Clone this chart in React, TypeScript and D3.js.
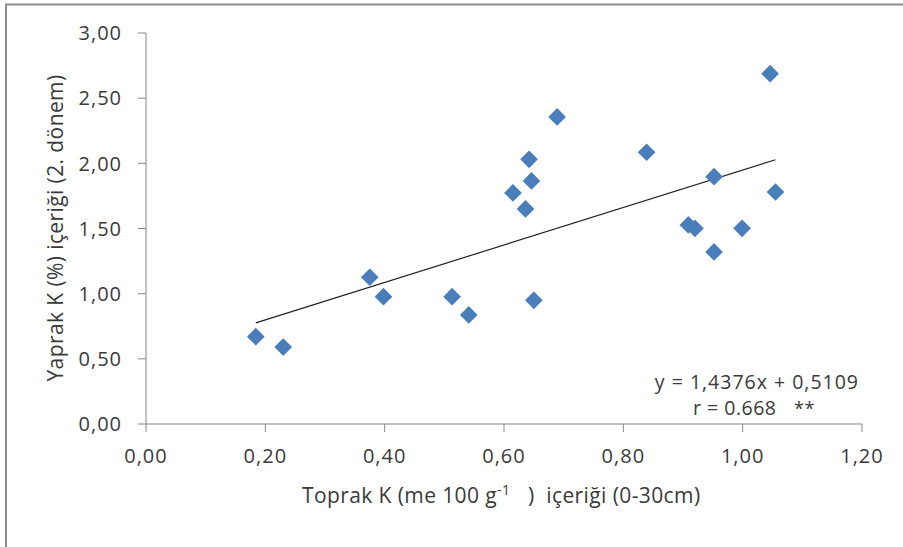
import React from "react";
import * as d3 from "d3";

// Soil K (me 100 g-1) vs. leaf K (%) at the 2nd sampling period
const soilK: number[] = [
  0.184, 0.23, 0.375, 0.398, 0.513, 0.541, 0.65, 0.615, 0.636, 0.646,
  0.642, 0.689, 0.839, 1.046, 0.952, 1.055, 0.909, 0.92, 0.999, 0.952,
];
const leafK: number[] = [
  0.67, 0.59, 1.126, 0.977, 0.977, 0.837, 0.949, 1.773, 1.65, 1.865,
  2.031, 2.356, 2.085, 2.688, 1.898, 1.78, 1.527, 1.501, 1.501, 1.32,
];

const xTicks: number[] = [0, 0.2, 0.4, 0.6, 0.8, 1.0, 1.2];
const yTicks: number[] = [0, 0.5, 1.0, 1.5, 2.0, 2.5, 3.0];

// Linear fit reported with the chart
const slope = 1.4376;
const intercept = 0.5109;
const rValue = "0.668";

const W = 903;
const H = 547;
const FONT = "'Open Sans', 'DejaVu Sans', sans-serif";
const TEXT = "#3a3a3a";
const AXIS = "#868686";
const MARK = "#4a7ebb";

const fmt = (v: number) => v.toFixed(2).replace(".", ",");

export default function App() {
  const x = d3.scaleLinear().domain([0, 1.2]).range([146, 862]);
  const y = d3.scaleLinear().domain([0, 3]).range([424, 33]);

  const points = soilK.map((k, i) => ({ x: k, y: leafK[i] }));
  const [xMin, xMax] = d3.extent(soilK) as [number, number];
  const fit = d3
    .line<number>()
    .x((d) => x(d))
    .y((d) => y(slope * d + intercept));

  const diamond = d3.symbol().type(d3.symbolDiamond2).size(200)();

  return (
    <svg
      width={W}
      height={H}
      style={{ position: "absolute", left: 0, top: 0, background: "#fff" }}
      fontFamily={FONT}
    >
      <rect x={0} y={0} width={W} height={H} fill="#fff" />
      {/* chart frame */}
      <rect
        x={6}
        y={4.5}
        width={W + 20}
        height={H + 20}
        fill="none"
        stroke="#8c8c8c"
        strokeWidth={2}
      />

      {/* axes */}
      <line x1={x(0)} x2={x(0)} y1={y(3)} y2={y(0)} stroke={AXIS} strokeWidth={1} />
      <line x1={x(0)} x2={x(1.2)} y1={y(0)} y2={y(0)} stroke={AXIS} strokeWidth={1} />
      {yTicks.map((t) => (
        <g key={"y" + t}>
          <line x1={x(0) - 8} x2={x(0)} y1={y(t)} y2={y(t)} stroke={AXIS} />
          <text
            x={122}
            y={y(t)}
            dy="0.36em"
            textAnchor="end"
            fontSize={20}
            letterSpacing={1}
            fill={TEXT}
          >
            {fmt(t)}
          </text>
        </g>
      ))}
      {xTicks.map((t) => (
        <g key={"x" + t}>
          <line x1={x(t)} x2={x(t)} y1={y(0)} y2={y(0) + 8} stroke={AXIS} />
          <text
            x={x(t)}
            y={463}
            textAnchor="middle"
            fontSize={20}
            letterSpacing={1}
            fill={TEXT}
          >
            {fmt(t)}
          </text>
        </g>
      ))}

      {/* axis titles */}
      <text x={302} y={503} fontSize={21} letterSpacing={0.4} fill={TEXT}>
        Toprak K (me 100 g
        <tspan dy={-8} fontSize={14}>-1</tspan>
        <tspan dy={8} xmlSpace="preserve">{"   )  içeriği (0-30cm)"}</tspan>
      </text>
      <text
        transform={`translate(63, ${228}) rotate(-90)`}
        textAnchor="middle"
        fontSize={21}
        letterSpacing={0.4}
        fill={TEXT}
      >
        Yaprak K (%) içeriği (2. dönem)
      </text>

      {/* regression line */}
      <path d={fit([xMin, xMax]) ?? ""} fill="none" stroke="#222" strokeWidth={1.2} />

      {/* observations */}
      {points.map((p, i) => (
        <path
          key={i}
          d={diamond ?? ""}
          transform={`translate(${x(p.x)}, ${y(p.y)})`}
          fill={MARK}
        />
      ))}

      {/* fit annotation */}
      <text
        x={859}
        y={389}
        textAnchor="end"
        fontSize={19.5}
        letterSpacing={1}
        fill={TEXT}
      >
        {`y = ${slope.toString().replace(".", ",")}x + ${intercept
          .toString()
          .replace(".", ",")}`}
      </text>
      <text x={693} y={415} fontSize={19.5} letterSpacing={0.5} fill={TEXT}>
        {`r = ${rValue}`}
        <tspan x={794} fontSize={18}>**</tspan>
      </text>
    </svg>
  );
}
